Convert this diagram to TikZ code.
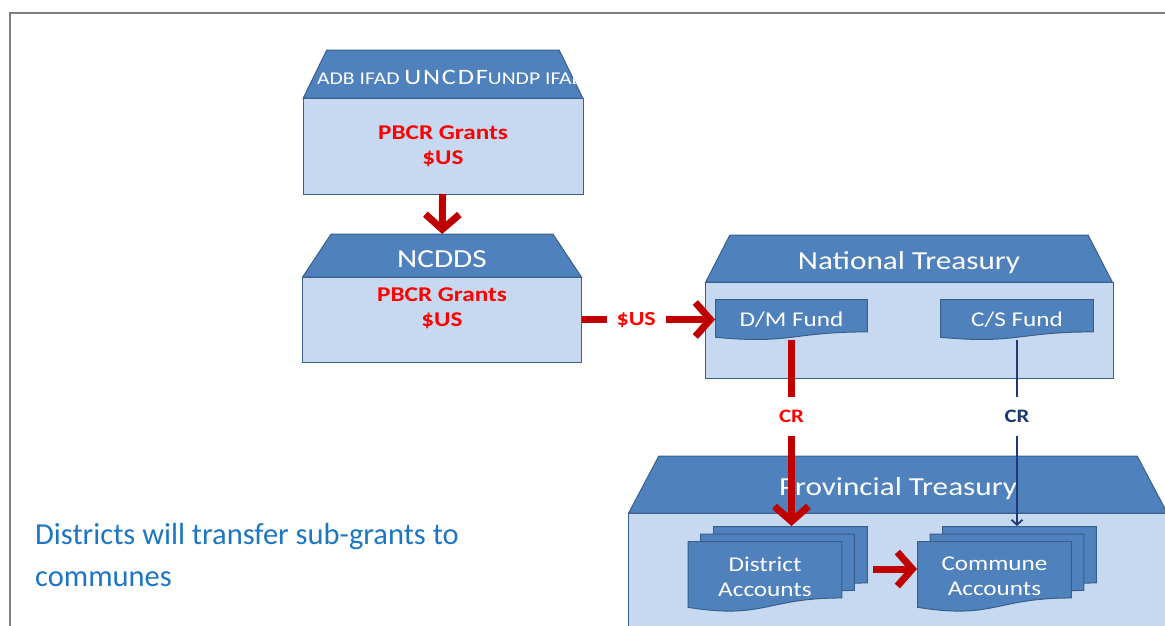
\documentclass[tikz,border=0pt]{standalone}
\usepackage{fontspec}
\setmainfont{Carlito}
\newfontfamily\diafont{Carlito}[FakeStretch=1.2]
\usetikzlibrary{arrows.meta,calc,positioning,shapes.geometric}
\definecolor{roofblue}{HTML}{4F81BD}
\definecolor{bodyblue}{HTML}{C6D9F1}
\definecolor{edgeblue}{HTML}{3A5F8B}
\definecolor{arrowred}{HTML}{C00000}
\definecolor{textred}{HTML}{FF0000}
\definecolor{crnavy}{HTML}{1F3A70}
\definecolor{notecol}{HTML}{1C76C4}
\definecolor{framegray}{HTML}{7F7F7F}
\tikzset{
  body/.style={draw=edgeblue, fill=bodyblue, line width=1pt,
         inner sep=0pt, outer sep=0pt},
  roof/.style={trapezium, trapezium stretches=true,
         trapezium left angle=56, trapezium right angle=56,
         draw=edgeblue, fill=roofblue, line width=1pt,
         inner sep=0pt, outer sep=0pt, text=white,
         font=\diafont\fontsize{26}{30}\selectfont},
  redtext/.style={text=textred, align=center,
         font=\diafont\bfseries\fontsize{21}{25}\selectfont},
  % wavy "document" box, shape drawn inside the node's own box
  docbox/.style={minimum width=#1, inner sep=0pt, outer sep=0pt,
         text=white, align=center,
         font=\diafont\fontsize{21}{25}\selectfont,
         path picture={
           \path[fill=roofblue, draw=edgeblue, line width=1pt]
             ([shift={(0.6pt,-0.6pt)}]path picture bounding box.north west)
             -- ([shift={(-0.6pt,-0.6pt)}]path picture bounding box.north east)
             -- ($(path picture bounding box.north east)!0.802!(path picture bounding box.south east)+(-0.6pt,0)$)
             .. controls ($(path picture bounding box.north)!0.802!(path picture bounding box.south)$)
             and ($(path picture bounding box.north)!1.107!(path picture bounding box.south)$)
             .. ($(path picture bounding box.north west)!0.934!(path picture bounding box.south west)+(0.6pt,0)$)
             -- cycle;
         }},
  docbox/.default={155},
  bigarrow/.style={draw=arrowred, line width=7pt,
         -{Straight Barb[length=15pt,width=34pt]}},
  navyarrow/.style={draw=crnavy, line width=1.8pt,
         -{Straight Barb[length=5pt,width=11pt]}},
  crlabel/.style={fill=white, inner xsep=3pt, inner ysep=13pt,
         font=\diafont\bfseries\fontsize{19}{19}\selectfont},
}
\newcommand\rooflabel[1]{\raisebox{-4pt}[\height][\depth]{#1}}

\begin{document}
\begin{tikzpicture}[x=1pt, y=-1pt]
  \path[use as bounding box, clip] (0,0) rectangle (1165,625);
  \draw[framegray, line width=1.5pt] (1166,13) -- (10,13) -- (10,626);

  % donors
  \node[body, redtext, minimum width=280, minimum height=96] (donors) at (443,146) {PBCR Grants\\\$US};
  \node[roof, minimum width=280, minimum height=48, above=0pt of donors] (donorroof) {\hspace*{200pt}\strut};
  \begin{scope}
    \clip (donorroof.bottom left corner) -- (donorroof.top left corner)
       -- (donorroof.top right corner) -- (donorroof.bottom right corner) -- cycle;
    \node[anchor=base west, inner sep=0pt, text=white, font=\diafont] (donornames) at (317,84)
      {{\fontsize{18}{20}\selectfont ADB IFAD }{\fontsize{22}{24}\selectfont\addfontfeature{LetterSpace=8}UNCDF}{\fontsize{18}{20}\selectfont UNDP IFAD}};
  \end{scope}

  % NCDDS
  \node[body, minimum width=279, minimum height=85] (ncdds) at (442,319.5) {};
  \node[roof, minimum width=279, minimum height=43, above=0pt of ncdds] (ncddsroof) {\rooflabel{NCDDS}};
  \node[redtext, below=7pt of ncdds.north] (ncddsgrant) {PBCR Grants\\\$US};

  % national treasury
  \node[body, minimum width=408, minimum height=96] (natl) at (909,330) {};
  \node[roof, minimum width=408, minimum height=47, above=0pt of natl] (natlroof) {\rooflabel{National Treasury}};
  \node[docbox=153, minimum height=41] (dmfund) at (791.5,319.5) {D/M Fund};
  \node[docbox=154, minimum height=41] (csfund) at (1017,319.5) {C/S Fund};

  % provincial treasury
  \node[body, minimum width=540, minimum height=130] (prov) at (898,578) {};
  \node[roof, minimum width=540, minimum height=57, above=0pt of prov] (provroof) {\rooflabel{Provincial Treasury}};
  \node[docbox, minimum height=71] (distback) at (790.5,561.5) {};
  \node[docbox, minimum height=71] (distmid) at (777.5,569) {};
  \node[docbox, minimum height=71] (distfront) at (765,576.5) {District\\Accounts};
  \node[docbox, minimum height=71] (commback) at (1019.5,561.5) {};
  \node[docbox, minimum height=71] (commmid) at (1007,569) {};
  \node[docbox, minimum height=71] (commfront) at (994.5,576.5) {Commune\\Accounts};

  % flows
  \draw[bigarrow] (donors) -- (ncddsroof);
  \draw[bigarrow] (ncdds.east |- dmfund) -- node[pos=0.41, fill=white, inner xsep=10pt, inner ysep=2pt, text=textred,
      font=\diafont\bfseries\fontsize{20}{20}\selectfont] (uslabel) {\$US} (dmfund);
  \draw[bigarrow] (dmfund) -- node[crlabel, pos=0.41, text=textred] (crred) {CR} (dmfund |- distback.north);
  \draw[navyarrow] (csfund) -- node[crlabel, pos=0.41, text=crnavy] (crnavy) {CR} (csfund |- commback.north);
  \draw[bigarrow] ([xshift=5pt]distback.east |- distmid) -- (commfront.west |- distmid);

  \node[anchor=north west, inner sep=0pt, align=left, text=notecol,
        font=\fontsize{30.5}{42}\selectfont] (note) at (35,523)
        {Districts will transfer sub-grants to\\communes};
\end{tikzpicture}
\end{document}
